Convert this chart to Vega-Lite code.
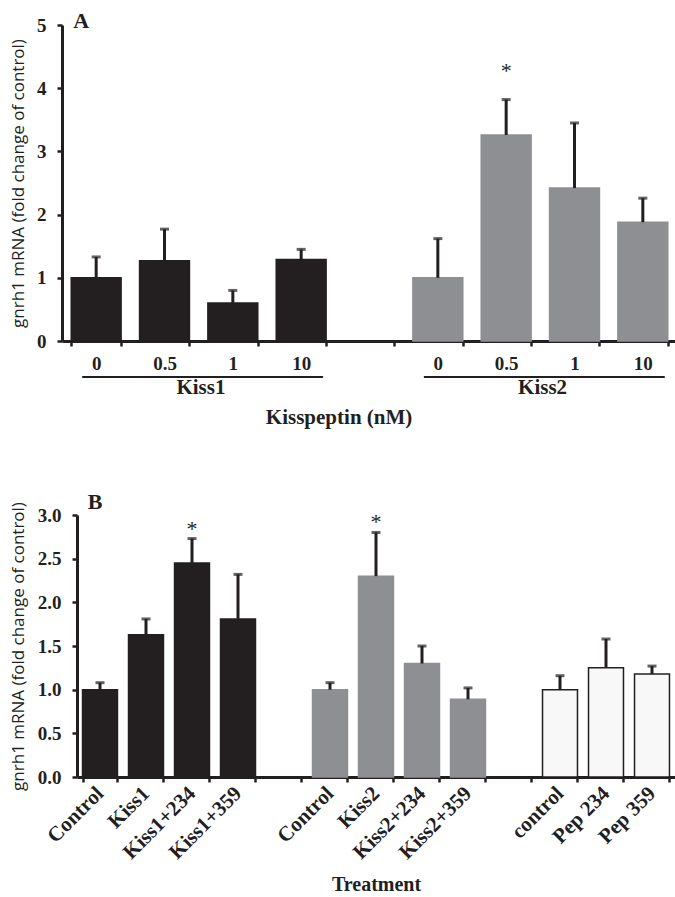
{
  "$schema": "https://vega.github.io/schema/vega-lite/v6.json",
  "background": "white",
  "padding": {"left": 8, "top": 10, "right": 0, "bottom": 0},
  "config": {
    "view": {"stroke": null},
    "font": "Liberation Serif",
    "axis": {
      "grid": false,
      "domainColor": "#231f20",
      "domainWidth": 3,
      "tickColor": "#231f20",
      "tickWidth": 2.5,
      "tickSize": 5,
      "labelFont": "Liberation Serif",
      "labelFontWeight": "bold",
      "labelFontSize": 19,
      "labelColor": "#231f20",
      "titleColor": "#231f20"
    }
  },
  "resolve": {"scale": {"color": "independent", "stroke": "independent"}},
  "datasets": {
    "a_bars": [
      {"slot": "Kiss1|0", "group": "Kiss1", "mean": 1.0, "upper": 1.33, "sig": ""},
      {"slot": "Kiss1|0.5", "group": "Kiss1", "mean": 1.27, "upper": 1.77, "sig": ""},
      {"slot": "Kiss1|1", "group": "Kiss1", "mean": 0.6, "upper": 0.8, "sig": ""},
      {"slot": "Kiss1|10", "group": "Kiss1", "mean": 1.29, "upper": 1.45, "sig": ""},
      {"slot": "Kiss2|0", "group": "Kiss2", "mean": 1.0, "upper": 1.62, "sig": ""},
      {"slot": "Kiss2|0.5", "group": "Kiss2", "mean": 3.26, "upper": 3.82, "sig": "*"},
      {"slot": "Kiss2|1", "group": "Kiss2", "mean": 2.42, "upper": 3.45, "sig": ""},
      {"slot": "Kiss2|10", "group": "Kiss2", "mean": 1.88, "upper": 2.26, "sig": ""}
    ],
    "a_groups": [
      {"group": "Kiss1", "start": "Kiss1|0", "end": "Kiss1|10", "mid": "Kiss1|0.5"},
      {"group": "Kiss2", "start": "Kiss2|0", "end": "Kiss2|10", "mid": "Kiss2|0.5"}
    ],
    "b_bars": [
      {"slot": "K1|Control", "group": "Kiss1", "mean": 1.0, "upper": 1.08, "sig": ""},
      {"slot": "K1|Kiss1", "group": "Kiss1", "mean": 1.63, "upper": 1.81, "sig": ""},
      {"slot": "K1|Kiss1+234", "group": "Kiss1", "mean": 2.45, "upper": 2.73, "sig": "*"},
      {"slot": "K1|Kiss1+359", "group": "Kiss1", "mean": 1.81, "upper": 2.32, "sig": ""},
      {"slot": "K2|Control", "group": "Kiss2", "mean": 1.0, "upper": 1.08, "sig": ""},
      {"slot": "K2|Kiss2", "group": "Kiss2", "mean": 2.3, "upper": 2.8, "sig": "*"},
      {"slot": "K2|Kiss2+234", "group": "Kiss2", "mean": 1.3, "upper": 1.5, "sig": ""},
      {"slot": "K2|Kiss2+359", "group": "Kiss2", "mean": 0.89, "upper": 1.02, "sig": ""},
      {"slot": "P|control", "group": "Peptide", "mean": 1.0, "upper": 1.16, "sig": ""},
      {"slot": "P|Pep 234", "group": "Peptide", "mean": 1.25, "upper": 1.58, "sig": ""},
      {"slot": "P|Pep 359", "group": "Peptide", "mean": 1.18, "upper": 1.27, "sig": ""}
    ]
  },
  "vconcat": [
    {
      "width": 615,
      "height": 316,
      "layer": [
        {
          "data": {"name": "a_bars"},
          "mark": {"type": "bar", "strokeWidth": 1.5},
          "encoding": {
            "x": {
              "field": "slot", "type": "nominal", "sort": null,
              "scale": {
                "domain": ["Kiss1|0", "Kiss1|0.5", "Kiss1|1", "Kiss1|10", "gap|", "Kiss2|0", "Kiss2|0.5", "Kiss2|1", "Kiss2|10"],
                "paddingInner": 0.27, "paddingOuter": 0.135
              },
              "axis": {
                "title": null, "labelAngle": 0, "tickBand": "extent",
                "labelExpr": "split(datum.value, '|')[1]",
                "labelPadding": 8, "labelBaseline": "top"
              }
            },
            "y": {
              "field": "mean", "type": "quantitative",
              "scale": {"domain": [0, 5], "nice": false},
              "axis": {
                "values": [0, 1, 2, 3, 4, 5],
                "format": "d",
                "title": "gnrh1 mRNA (fold change of control)",
                "titleFont": "Open Sans", "titleFontWeight": "normal", "titleFontSize": 17,
                "titlePadding": 9, "labelPadding": 11,
                "minExtent": 26, "maxExtent": 26
              }
            },
            "color": {
              "field": "group", "type": "nominal",
              "scale": {"domain": ["Kiss1", "Kiss2", "Peptide"], "range": ["#231f20", "#8e8f93", "#f8f8f8"]},
              "legend": null
            },
            "stroke": {
              "field": "group", "type": "nominal",
              "scale": {"domain": ["Kiss1", "Kiss2", "Peptide"], "range": ["#231f20", "#8e8f93", "#231f20"]},
              "legend": null
            }
          }
        },
        {
          "data": {"name": "a_bars"},
          "mark": {"type": "rule", "color": "#231f20", "strokeWidth": 3},
          "encoding": {
            "x": {"field": "slot", "type": "nominal"},
            "y": {"field": "mean", "type": "quantitative"},
            "y2": {"field": "upper"}
          }
        },
        {
          "data": {"name": "a_bars"},
          "mark": {"type": "tick", "color": "#231f20", "thickness": 3, "size": 9},
          "encoding": {
            "x": {"field": "slot", "type": "nominal"},
            "y": {"field": "upper", "type": "quantitative"}
          }
        },
        {
          "data": {"name": "a_bars"},
          "mark": {"type": "text", "fontSize": 22, "font": "Liberation Serif", "color": "#231f20", "baseline": "alphabetic", "dy": -22},
          "encoding": {
            "x": {"field": "slot", "type": "nominal"},
            "y": {"field": "upper", "type": "quantitative"},
            "text": {"field": "sig"}
          }
        },
        {
          "data": {"name": "a_groups"},
          "mark": {"type": "rule", "color": "#231f20", "strokeWidth": 2},
          "encoding": {
            "x": {"field": "start", "type": "nominal", "bandPosition": 0.22},
            "x2": {"field": "end", "bandPosition": 0.94},
            "y": {"datum": -0.57, "type": "quantitative"}
          }
        },
        {
          "data": {"name": "a_groups"},
          "mark": {"type": "text", "fontSize": 21, "fontWeight": "bold", "font": "Liberation Serif", "color": "#231f20", "baseline": "middle"},
          "encoding": {
            "x": {"field": "mid", "type": "nominal", "bandPosition": 1.23},
            "y": {"datum": -0.74, "type": "quantitative"},
            "text": {"field": "group"}
          }
        },
        {
          "data": {"values": [{"label": "Kisspeptin (nM)"}]},
          "mark": {"type": "text", "fontSize": 21, "fontWeight": "bold", "font": "Liberation Serif", "color": "#231f20", "baseline": "middle"},
          "encoding": {
            "x": {"datum": "Kiss1|10", "type": "nominal", "bandPosition": 1.26},
            "y": {"datum": -1.22, "type": "quantitative"},
            "text": {"field": "label"}
          }
        },
        {
          "data": {"values": [{"label": "A"}]},
          "mark": {"type": "text", "fontSize": 22, "fontWeight": "bold", "font": "Liberation Serif", "color": "#231f20", "baseline": "middle"},
          "encoding": {
            "x": {"datum": "Kiss1|0", "type": "nominal", "bandPosition": 0.2},
            "y": {"datum": 5.06, "type": "quantitative"},
            "text": {"field": "label"}
          }
        }
      ]
    },
    {
      "width": 613,
      "height": 262,
      "layer": [
        {
          "data": {"name": "b_bars"},
          "mark": {"type": "bar", "strokeWidth": 1.5},
          "encoding": {
            "x": {
              "field": "slot", "type": "nominal", "sort": null,
              "scale": {
                "domain": ["K1|Control", "K1|Kiss1", "K1|Kiss1+234", "K1|Kiss1+359", "g1|", "K2|Control", "K2|Kiss2", "K2|Kiss2+234", "K2|Kiss2+359", "g2|", "P|control", "P|Pep 234", "P|Pep 359"],
                "paddingInner": 0.24, "paddingOuter": 0.12,
                "range": [15, 613]
              },
              "axis": {
                "title": "Treatment", "titleFont": "Liberation Serif", "titleFontWeight": "bold", "titleFontSize": 20,
                "titlePadding": 12,
                "labelAngle": -45, "labelAlign": "right", "labelBaseline": "middle",
                "labelFontSize": 21,
                "tickBand": "extent",
                "labelExpr": "split(datum.value, '|')[1]",
                "labelPadding": 8
              }
            },
            "y": {
              "field": "mean", "type": "quantitative",
              "scale": {"domain": [0, 3], "nice": false},
              "axis": {
                "values": [0, 0.5, 1, 1.5, 2, 2.5, 3],
                "format": ".1f",
                "title": "gnrh1 mRNA (fold change of control)",
                "titleFont": "Open Sans", "titleFontWeight": "normal", "titleFontSize": 17,
                "titlePadding": 9, "labelPadding": 11,
                "offset": -15,
                "minExtent": 41, "maxExtent": 41
              }
            },
            "color": {
              "field": "group", "type": "nominal",
              "scale": {"domain": ["Kiss1", "Kiss2", "Peptide"], "range": ["#231f20", "#8e8f93", "#f8f8f8"]},
              "legend": null
            },
            "stroke": {
              "field": "group", "type": "nominal",
              "scale": {"domain": ["Kiss1", "Kiss2", "Peptide"], "range": ["#231f20", "#8e8f93", "#231f20"]},
              "legend": null
            }
          }
        },
        {
          "data": {"name": "b_bars"},
          "mark": {"type": "rule", "color": "#231f20", "strokeWidth": 3},
          "encoding": {
            "x": {"field": "slot", "type": "nominal"},
            "y": {"field": "mean", "type": "quantitative"},
            "y2": {"field": "upper"}
          }
        },
        {
          "data": {"name": "b_bars"},
          "mark": {"type": "tick", "color": "#231f20", "thickness": 3, "size": 9},
          "encoding": {
            "x": {"field": "slot", "type": "nominal"},
            "y": {"field": "upper", "type": "quantitative"}
          }
        },
        {
          "data": {"name": "b_bars"},
          "mark": {"type": "text", "fontSize": 22, "font": "Liberation Serif", "color": "#231f20", "baseline": "alphabetic", "dy": -3},
          "encoding": {
            "x": {"field": "slot", "type": "nominal"},
            "y": {"field": "upper", "type": "quantitative"},
            "text": {"field": "sig"}
          }
        },
        {
          "data": {"values": [{"label": "B"}]},
          "mark": {"type": "text", "fontSize": 22, "fontWeight": "bold", "font": "Liberation Serif", "color": "#231f20", "baseline": "middle"},
          "encoding": {
            "x": {"datum": "K1|Control", "type": "nominal", "bandPosition": 0.36},
            "y": {"datum": 3.15, "type": "quantitative"},
            "text": {"field": "label"}
          }
        }
      ]
    }
  ],
  "spacing": 61
}
